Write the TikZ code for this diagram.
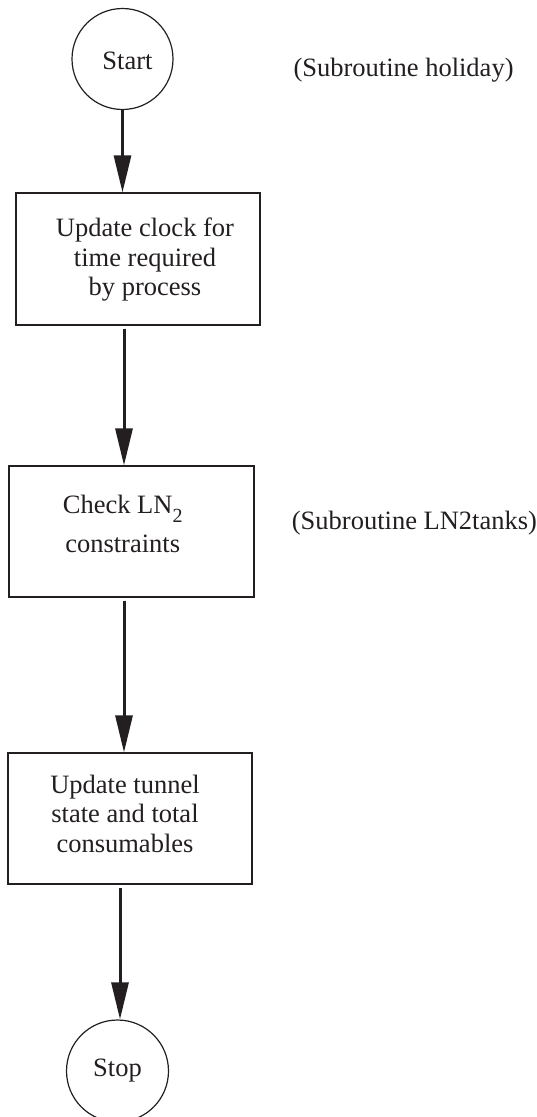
\documentclass[tikz,border=0pt]{standalone}
\usepackage{fontspec}
\setmainfont{Liberation Serif}
\usetikzlibrary{arrows.meta,calc}
\definecolor{ink}{HTML}{231F20}
\newcommand\shifted[4]{\raisebox{#3}[\height][\depth]{\hspace*{#1}\begin{tabular}{@{}c@{}}#4\end{tabular}\hspace*{#2}}}
\begin{document}
\begin{tikzpicture}[x=1pt,y=-1pt,
  every node/.style={font=\fontsize{26.5}{29.5}\selectfont, text=ink},
  procbox/.style={draw=ink, line width=1.2pt, rectangle, inner sep=0pt},
  term/.style={draw=ink, line width=1.2pt, circle, inner sep=0pt},
  flow/.style={draw=ink, line width=3pt, -{Triangle[length=37pt,width=17pt]}},
  note/.style={anchor=base west, inner sep=0pt}]
\useasboundingbox (0,0) rectangle (537,1117);
\node[term, minimum size=101pt] (start) at (122.5,59) {\shifted{10pt}{0pt}{-5pt}{Start}};
\node[procbox, minimum width=244pt, minimum height=132pt] (b1) at (138,259)
  {\shifted{14pt}{0pt}{-1.3pt}{Update clock for\\time required\\by process}};
\node[procbox, minimum width=245pt, minimum height=131pt] (b2) at (131.5,531.5)
  {\shifted{0pt}{17.6pt}{4.5pt}{Check LN\raisebox{-9pt}{\fontsize{20}{20}\selectfont 2}\\[10pt]constraints}};
\node[procbox, minimum width=244pt, minimum height=131pt] (b3) at (130,818.5)
  {\shifted{0pt}{10pt}{1.9pt}{Update tunnel\\state and total\\consumables}};
\node[term, minimum size=102pt] (stop) at (117.5,1071) {Stop};
\node[note] (n1) at (293.3,76) {(Subroutine holiday)};
\node[note] (n2) at (291.7,529) {(Subroutine LN2tanks)};
\coordinate (a2) at ([xshift=-14pt]b1.south);
\coordinate (a3) at ([xshift=-7.5pt]b2.south);
\coordinate (a4) at ([xshift=-10pt]b3.south);
\draw[flow] (start.south) -- (start.south |- b1.north);
\draw[flow, shorten <=3pt] (a2) -- (a2 |- b2.north);
\draw[flow, shorten <=3pt] (a3) -- (a3 |- b3.north);
\draw[flow, shorten <=3pt] (a4) -- (a4 |- stop.north);
\end{tikzpicture}
\end{document}
